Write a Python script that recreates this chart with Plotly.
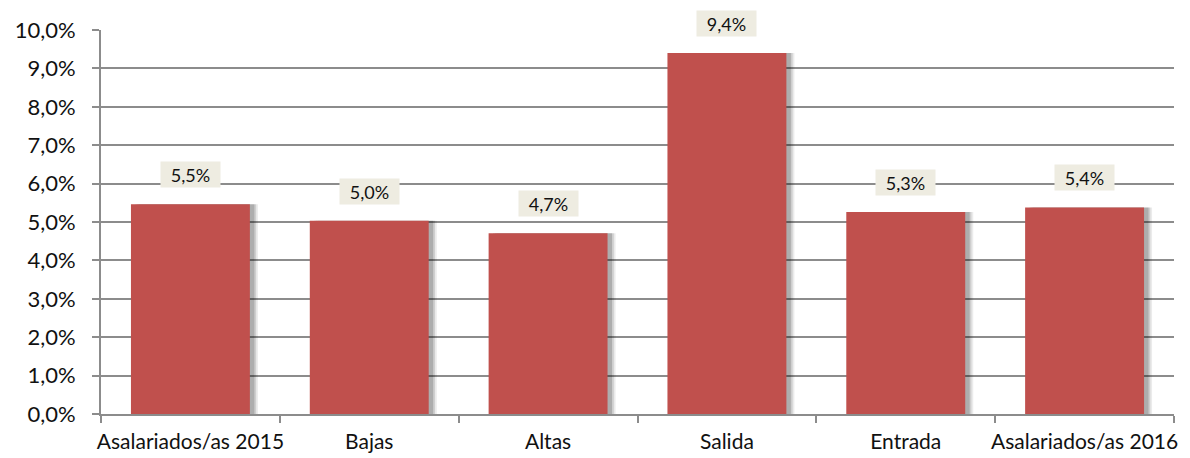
import plotly.graph_objects as go

categorias = ["Asalariados/as 2015", "Bajas", "Altas", "Salida", "Entrada", "Asalariados/as 2016"]
valores = [0.0546, 0.0503, 0.0471, 0.0940, 0.0526, 0.0538]
ticks_y = [i / 100 for i in range(0, 11)]
ticks_txt = [f"{i},0%" for i in range(0, 11)]

FONT = "Lato, Noto Sans, sans-serif"
ROJO = "#C0504D"
GRIS = "#8C8C8C"

fig = go.Figure()

# sombra difusa a la derecha de las barras
for off, alpha in [(0.045, 0.08), (0.035, 0.12), (0.025, 0.16)]:
    fig.add_trace(go.Bar(
        x=categorias, y=valores, width=0.665, offset=-0.3325 + off,
        marker=dict(color=f"rgba(0,0,0,{alpha})", line=dict(width=0)),
        hoverinfo="skip", showlegend=False,
    ))

fig.add_trace(go.Bar(
    x=categorias, y=valores, width=0.665, offset=-0.3325,
    marker=dict(color=ROJO, line=dict(width=0)),
    showlegend=False,
))

# etiquetas de datos con fondo beige
for c, v in zip(categorias, valores):
    fig.add_annotation(
        x=c, y=v, text=f"{v*100:.1f}%".replace(".", ","),
        showarrow=False, yanchor="bottom", yshift=16,
        width=59, height=25, borderpad=0,
        bgcolor="#EEECE1",
        font=dict(family=FONT, size=18, color="#111111"),
    )

# la página añade 8 px de margen al body
fig.update_layout(
    width=1174, height=450,
    margin=dict(l=93, r=8, t=22, b=44),
    paper_bgcolor="white", plot_bgcolor="white",
    barmode="overlay",
    font=dict(family=FONT, size=20, color="#111111"),
)
fig.update_xaxes(
    showline=True, linecolor=GRIS, linewidth=2,
    ticks="outside", tickson="boundaries", ticklen=7, tickcolor=GRIS, tickwidth=2,
    tickfont=dict(size=21), tickangle=0, automargin=False, ticklabelstandoff=8,
)
fig.update_yaxes(
    range=[0, 0.1], tickvals=ticks_y, ticktext=ticks_txt,
    showgrid=True, gridcolor=GRIS, gridwidth=2,
    showline=True, linecolor=GRIS, linewidth=2,
    ticks="outside", ticklen=7, tickcolor=GRIS, tickwidth=2,
    tickfont=dict(size=22), zeroline=False, automargin=False, ticklabelstandoff=12,
)

fig.write_html("out.html")
